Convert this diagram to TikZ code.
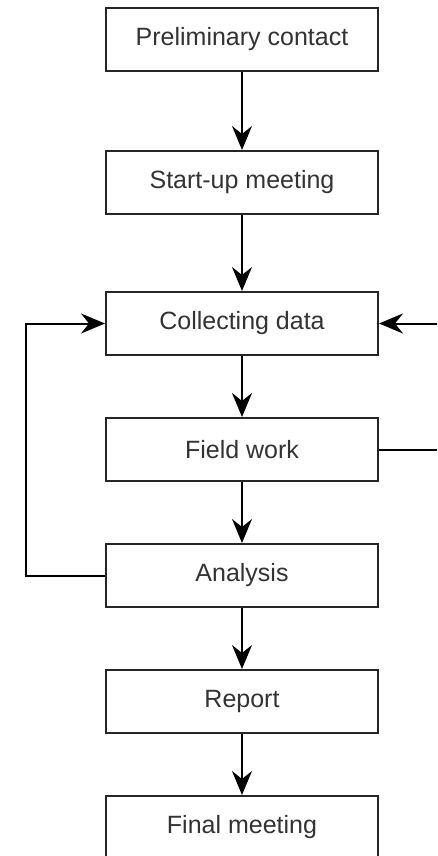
\documentclass[tikz,border=0pt]{standalone}
\usepackage{fontspec}
\setmainfont{Liberation Sans}
\usetikzlibrary{arrows.meta}
\begin{document}
\begin{tikzpicture}[x=1pt,y=-1pt,
  stepbox/.style={draw=black!85, line width=2pt, minimum width=272pt, minimum height=63pt, inner sep=0pt, font=\fontsize{25}{29}\selectfont, text=black!80},
  conn/.style={draw=black, line width=2pt, -{Stealth[length=24pt,width=20pt,inset=8pt]}},
  plain/.style={draw=black, line width=2pt}]
\clip (0,0) rectangle (437,856);
\fill[white] (0,0) rectangle (437,856);
\node[stepbox] (n1) at (242,39.5) {Preliminary contact};
\node[stepbox] (n2) at (242,182.5) {Start-up meeting};
\node[stepbox] (n3) at (242,323.5) {Collecting data};
\node[stepbox] (n4) at (242,449.5) {Field work};
\node[stepbox] (n5) at (242,575.5) {Analysis};
\node[stepbox] (n6) at (242,701.5) {Report};
\node[stepbox] (n7) at (242,827.5) {Final meeting};
\coordinate (lx) at (26,0);
\coordinate (rx) at (445,0);
\draw[conn] (n1) -- (n2);
\draw[conn] (n2) -- (n3);
\draw[conn] (n3) -- (n4);
\draw[conn] (n4) -- (n5);
\draw[conn] (n5) -- (n6);
\draw[conn] (n6) -- (n7);
\draw[conn] (n5.west) -| (lx |- n5) |- (n3.west);
\draw[conn] (n4.east) -| (rx |- n4) |- (n3.east);
\end{tikzpicture}
\end{document}
